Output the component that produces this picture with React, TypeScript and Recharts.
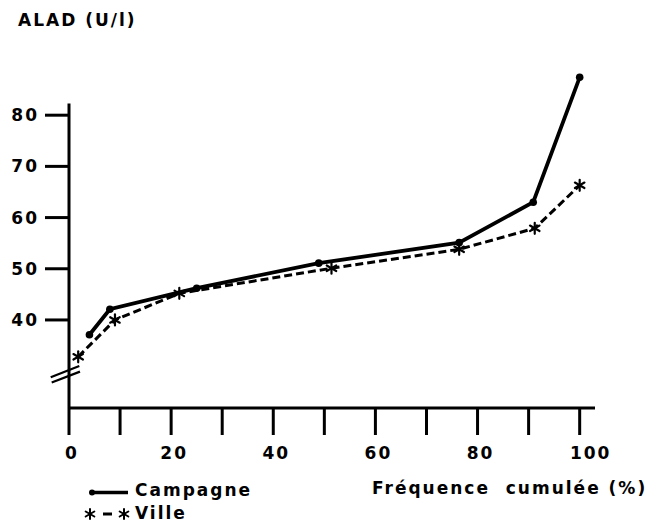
import React from "react";
import { LineChart, Line, XAxis, YAxis, ReferenceLine } from "recharts";

// Campagne (solid line, dots)
const campagneX = [4.0, 8.0, 25.0, 48.9, 76.4, 90.9, 100];
const campagneY = [37.1, 42.1, 46.2, 51.1, 55.1, 63.0, 87.4];
// Ville (dashed line, asterisks)
const villeX = [1.8, 9.0, 21.6, 51.4, 76.4, 91.2, 100];
const villeY = [32.8, 40.0, 45.2, 50.1, 53.8, 57.9, 66.3];

const xTicks = [0, 10, 20, 30, 40, 50, 60, 70, 80, 90, 100];
const yTicks = [40, 50, 60, 70, 80];

const campagneData = campagneX.map((x, i) => ({ x, y: campagneY[i] }));
const villeData = villeX.map((x, i) => ({ x, y: villeY[i] }));

const FONT = '"DejaVu Sans", "Liberation Sans", Arial, sans-serif';

const Asterisk = (props: any) => {
  const { cx, cy, r = 5.5, sw = 2.2 } = props;
  if (cx == null || cy == null) return null;
  const angles = [90, 30, 150];
  return (
    <g>
      {angles.map((a) => {
        const rad = (a * Math.PI) / 180;
        const dx = Math.cos(rad) * r;
        const dy = Math.sin(rad) * r;
        return (
          <line
            key={a}
            x1={cx - dx}
            y1={cy - dy}
            x2={cx + dx}
            y2={cy + dy}
            stroke="#000"
            strokeWidth={sw}
            strokeLinecap="round"
          />
        );
      })}
    </g>
  );
};

const XTick = (props: any) => {
  const { x, y, payload } = props;
  const v = payload.value;
  const show = v % 20 === 0;
  const dx = v === 100 ? 11 : 3;
  return (
    <g>
      <line x1={x} y1={y} x2={x} y2={y + 27} stroke="#000" strokeWidth={3} />
      {show && (
        <text
          x={x + dx}
          y={y + 51}
          textAnchor="middle"
          fontFamily={FONT}
          fontWeight="bold"
          fontSize={17}
          letterSpacing={2}
          fill="#000"
        >
          {v}
        </text>
      )}
    </g>
  );
};

const YTick = (props: any) => {
  const { x, y, payload } = props;
  return (
    <g>
      <line x1={x - 24} y1={y} x2={x} y2={y} stroke="#000" strokeWidth={3} />
      <text
        x={x - 30}
        y={y + 6}
        textAnchor="end"
        fontFamily={FONT}
        fontWeight="bold"
        fontSize={17}
        letterSpacing={2}
        fill="#000"
      >
        {payload.value}
      </text>
    </g>
  );
};

const textStyle: React.CSSProperties = {
  position: "absolute",
  fontFamily: FONT,
  fontWeight: "bold",
  fontSize: 17,
  lineHeight: "17px",
  letterSpacing: 2,
  whiteSpace: "nowrap",
  color: "#000",
};

export default function App() {
  return (
    <div
      style={{
        position: "absolute",
        left: 0,
        top: 0,
        width: 657,
        height: 525,
        background: "#fff",
      }}
    >
      <LineChart
        width={657}
        height={525}
        margin={{ top: 64, right: 62, bottom: 87, left: 9 }}
      >
        <XAxis
          type="number"
          dataKey="x"
          domain={[0, 103]}
          ticks={xTicks}
          interval={0}
          tickSize={0}
          tickMargin={0}
          tickLine={false}
          axisLine={{ stroke: "#000", strokeWidth: 3 }}
          tick={<XTick />}
          height={30}
          allowDataOverflow
        />
        <YAxis
          type="number"
          dataKey="y"
          domain={[22.8, 90]}
          ticks={yTicks}
          interval={0}
          tickSize={0}
          tickMargin={0}
          tickLine={false}
          axisLine={false}
          tick={<YTick />}
          width={60}
          allowDataOverflow
        />
        <ReferenceLine
          segment={[
            { x: 0, y: 22.8 },
            { x: 0, y: 82.3 },
          ]}
          stroke="#000"
          strokeWidth={3}
        />
        <ReferenceLine
          segment={[
            { x: -3.58, y: 28.82 },
            { x: 2.02, y: 31.02 },
          ]}
          stroke="#000"
          strokeWidth={2.2}
          ifOverflow="visible"
        />
        <ReferenceLine
          segment={[
            { x: -3.39, y: 27.77 },
            { x: 2.15, y: 29.91 },
          ]}
          stroke="#000"
          strokeWidth={2.2}
          ifOverflow="visible"
        />
        <Line
          data={villeData}
          dataKey="y"
          type="linear"
          stroke="#000"
          strokeWidth={3}
          strokeDasharray="8 4"
          isAnimationActive={false}
          dot={(p: any) => <Asterisk key={`v-${p.index}`} cx={p.cx} cy={p.cy} />}
          activeDot={false}
        />
        <Line
          data={campagneData}
          dataKey="y"
          type="linear"
          stroke="#000"
          strokeWidth={3.8}
          isAnimationActive={false}
          dot={{ r: 3.8, fill: "#000", stroke: "#000", strokeWidth: 0 }}
          activeDot={false}
        />
      </LineChart>

      <div style={{ ...textStyle, left: 18, top: 12 }}>ALAD (U/l)</div>
      <div style={{ ...textStyle, left: 372, top: 480 }}>Fréquence&nbsp;&nbsp;cumulée (%)</div>
      <div style={{ ...textStyle, left: 135, top: 482 }}>Campagne</div>
      <div style={{ ...textStyle, left: 135, top: 505 }}>Ville</div>

      <svg
        width={657}
        height={525}
        style={{ position: "absolute", left: 0, top: 0, pointerEvents: "none" }}
      >
        <line x1={91} y1={492.5} x2={128} y2={492.5} stroke="#000" strokeWidth={3.5} />
        <circle cx={92} cy={492.5} r={3} fill="#000" />
        <Asterisk cx={90} cy={514} r={5} sw={2} />
        <line x1={103} y1={514} x2={112} y2={514} stroke="#000" strokeWidth={3} />
        <Asterisk cx={124} cy={514} r={5} sw={2} />
      </svg>
    </div>
  );
}
